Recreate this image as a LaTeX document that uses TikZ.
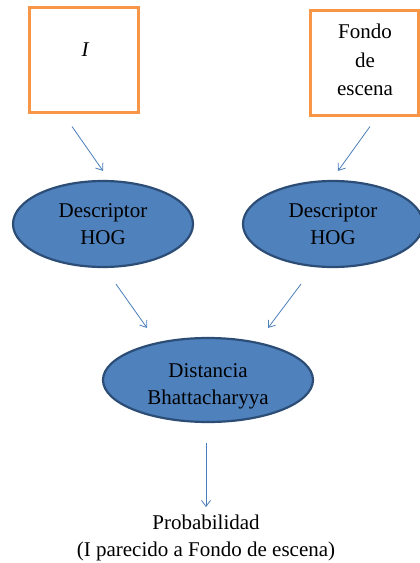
\documentclass[tikz,border=0pt]{standalone}
\usepackage{fontspec}
\setmainfont{Liberation Serif}
\usetikzlibrary{shapes.geometric,arrows.meta}
\definecolor{boxorange}{HTML}{F79646}
\definecolor{ellfill}{HTML}{4F81BD}
\definecolor{elldraw}{HTML}{2C4D75}
\definecolor{arrblue}{HTML}{4A7EBB}
\tikzset{
  srcbox/.style={draw=boxorange, line width=3pt, rectangle, inner sep=0pt},
  ell/.style={ellipse, draw=elldraw, fill=ellfill, line width=2.2pt, inner sep=0pt, align=center, font=\fontsize{21}{27}\selectfont},
  txt/.style={align=center, font=\fontsize{21}{27}\selectfont},
  arr/.style={draw=arrblue, line width=0.8pt, -{Straight Barb[length=6pt,width=9pt]}}
}
\begin{document}
\begin{tikzpicture}[x=1pt,y=-1pt]
\useasboundingbox (0,0) rectangle (420,563);
\node[srcbox, minimum width=109pt, minimum height=105pt] (boxI) at (83.5,59.5) {};
\node[txt, font=\fontsize{21}{27}\selectfont\itshape] (labI) at (85,50) {I};
\node[srcbox, minimum width=108pt, minimum height=105pt] (boxF) at (364,62.5) {};
\node[txt, font=\fontsize{21}{28.5}\selectfont] (labF) at (365,60) {Fondo\\de\\escena};
\node[ell, minimum width=180pt, minimum height=86pt] (descL) at (103,224) {Descriptor\\HOG};
\node[ell, minimum width=180pt, minimum height=86pt] (descR) at (333,224) {Descriptor\\HOG};
\node[ell, minimum width=210pt, minimum height=84pt] (dist) at (208,380) {};
\node[txt] (distlab) at (208,386) {Distancia\\Bhattacharyya};
\node[txt] (prob) at (206,538) {Probabilidad\\(I parecido a Fondo de escena)};
\coordinate (probtop) at (206,507);
\draw[arr] ([xshift=-11.5pt,yshift=-13pt]boxI.south) -- ([yshift=9pt]descL.north);
\draw[arr] ([xshift=6pt,yshift=-10pt]boxF.south) -- ([xshift=5pt,yshift=9pt]descR.north);
\draw[arr] ([xshift=13pt,yshift=-16pt]descL.south) -- ([xshift=-61pt,yshift=9pt]dist.north);
\draw[arr] ([xshift=-32pt,yshift=-16pt]descR.south) -- ([xshift=60pt,yshift=9pt]dist.north);
\draw[arr] ([xshift=-2pt,yshift=-20pt]dist.south) -- (probtop);
\end{tikzpicture}
\end{document}
